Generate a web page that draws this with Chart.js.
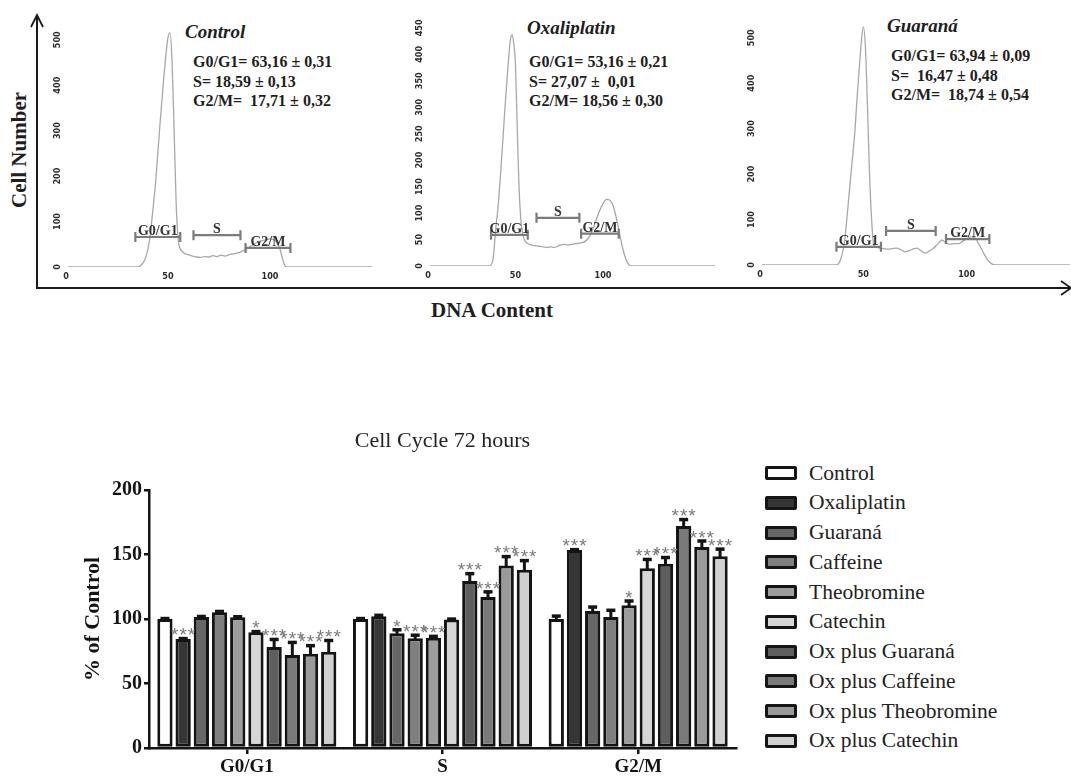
<!DOCTYPE html>
<html>
<head>
<meta charset="utf-8">
<title>Cell cycle 72 hours</title>
<script src="https://cdn.jsdelivr.net/npm/chart.js@4.4.1/dist/chart.umd.min.js"></script>
<style>
  html, body { margin: 0; padding: 0; background: #fff; }
  #page { position: relative; width: 1071px; height: 778px; overflow: hidden; background: #fff;
          font-family: "Liberation Serif", "Times New Roman", serif; color: #1e1e1e; }
  #page canvas, #page svg, .txt { position: absolute; }
  .txt { white-space: pre; line-height: 1; }
  .b { font-weight: bold; }
  .stat { font-size: 16px; font-weight: bold; }
  .head { font-size: 19px; font-weight: bold; font-style: italic; }
  .rot { transform: translate(-50%, -50%) rotate(-90deg); }
  .mid { transform: translate(-50%, -50%); }
  .legend-row { position: absolute; left: 765px; height: 22px; display: flex; align-items: center; }
  .legend-box { width: 32px; height: 14px; box-sizing: border-box; border: 3px solid #151515; border-radius: 2px; }
  .legend-label { margin-left: 12px; font-size: 21.5px; color: #222; white-space: nowrap; }
</style>
</head>
<body>
<div id="page">
  <svg width="1071" height="300" style="left:0;top:0">
    <path d="M37 16 V288 H1072" stroke="#1a1a1a" stroke-width="2" fill="none"/>
    <path d="M31 27 L37 15 L43 27" stroke="#1a1a1a" stroke-width="1.8" fill="none"/>
    <path d="M1061 281 L1071 288 L1061 295" stroke="#1a1a1a" stroke-width="1.8" fill="none"/>
  </svg>

  <div class="txt b rot" style="left:19px;top:150px;font-size:21px;">Cell Number</div>
  <div class="txt b mid" style="left:492px;top:310px;font-size:21px;">DNA Content</div>

  <div class="txt head" style="left:185px;top:22px;">Control</div>
  <div class="txt stat" style="left:193px;top:54px;">G0/G1= 63,16 ± 0,31</div>
  <div class="txt stat" style="left:193px;top:74px;">S= 18,59 ± 0,13</div>
  <div class="txt stat" style="left:193px;top:93px;">G2/M=  17,71 ± 0,32</div>

  <div class="txt head" style="left:527px;top:18px;">Oxaliplatin</div>
  <div class="txt stat" style="left:529px;top:54px;">G0/G1= 53,16 ± 0,21</div>
  <div class="txt stat" style="left:529px;top:74px;">S= 27,07 ±  0,01</div>
  <div class="txt stat" style="left:529px;top:93px;">G2/M= 18,56 ± 0,30</div>

  <div class="txt head" style="left:887px;top:16px;">Guaraná</div>
  <div class="txt stat" style="left:891px;top:48px;">G0/G1= 63,94 ± 0,09</div>
  <div class="txt stat" style="left:891px;top:68px;">S=  16,47 ± 0,48</div>
  <div class="txt stat" style="left:891px;top:87px;">G2/M=  18,74 ± 0,54</div>

  <canvas id="hist-control"></canvas>
  <canvas id="hist-ox"></canvas>
  <canvas id="hist-guarana"></canvas>

  <canvas id="cycle" width="760" height="358" style="left:0;top:420px;"></canvas>
  <div id="legend"></div>
</div>

<script>
const serif = '"Liberation Serif", "Times New Roman", serif';
const narrow = '"Liberation Sans Narrow", "DejaVu Sans Condensed", "Arial Narrow", sans-serif';

// --- flow cytometry histograms (DNA content channel vs cell count) ---
const histTicksX = [0, 50, 100];
const controlTicksY = [0, 100, 200, 300, 400, 500];
const oxTicksY = [0, 50, 100, 150, 200, 250, 300, 350, 400, 450];
const guaranaTicksY = [0, 100, 200, 300, 400, 500];

const controlDNA = [1, 35, 37, 39, 41, 42, 44, 46, 48, 50, 51, 52, 53, 54, 55, 56, 57, 58, 60, 62,
  64, 66, 68, 70, 72, 74, 76, 78, 80, 82, 84, 86, 88, 90, 92, 94, 96, 98, 100, 102,
  104, 105, 106, 107, 108, 150];
const controlCells = [0, 0, 5, 20, 60, 100, 190, 310, 420, 505, 515, 450, 300, 140, 60, 40, 34, 30, 27, 24,
  22, 21, 23, 22, 25, 23, 26, 24, 27, 29, 31, 34, 38, 44, 50, 55, 58, 60, 62, 60,
  50, 38, 20, 6, 0, 0];

const oxDNA = [1, 35, 37, 39, 40, 42, 44, 46, 47, 48, 49, 50, 51, 52, 53, 54, 55, 56, 58, 60,
  62, 64, 66, 68, 70, 72, 74, 76, 78, 80, 82, 84, 86, 88, 90, 92, 94, 96, 98, 100,
  102, 104, 106, 108, 110, 112, 114, 116, 164];
const oxCells = [0, 0, 10, 80, 110, 200, 300, 390, 425, 437, 420, 380, 260, 150, 90, 62, 50, 45, 41, 39,
  38, 37, 36, 35, 36, 35, 37, 40, 41, 40, 41, 42, 43, 44, 47, 54, 68, 86, 104, 118,
  126, 124, 112, 85, 52, 24, 6, 0, 0];

const guaranaDNA = [1, 37, 39, 41, 42, 44, 46, 47, 48, 49, 50, 51, 52, 53, 54, 55, 56, 58, 60, 62,
  64, 66, 68, 70, 72, 74, 76, 78, 80, 82, 84, 86, 88, 90, 92, 94, 96, 98, 100, 102,
  104, 106, 108, 110, 112, 114, 150];
const guaranaCells = [0, 0, 12, 55, 100, 200, 300, 370, 430, 490, 524, 480, 350, 200, 100, 45, 40, 37, 36, 35,
  36, 37, 34, 29, 31, 35, 37, 31, 26, 31, 37, 46, 55, 48, 46, 47, 47, 52, 58, 62,
  60, 45, 28, 12, 3, 0, 0];

// gate markers: label, from, to, level
const controlGates = [["G0/G1", 34, 56, 66], ["S", 62.5, 85.5, 70], ["G2/M", 88, 110, 42]];
const oxGates = [["G0/G1", 36, 57, 59], ["S", 62, 86.5, 91], ["G2/M", 87.5, 109, 61]];
const guaranaGates = [["G0/G1", 37, 58.5, 40], ["S", 61, 85, 75], ["G2/M", 90, 111, 57]];

// --- bar chart: % of control ---
const phases = ["G0/G1", "S", "G2/M"];
const treatments = ["Control", "Oxaliplatin", "Guaraná", "Caffeine", "Theobromine", "Catechin",
  "Ox plus Guaraná", "Ox plus Caffeine", "Ox plus Theobromine", "Ox plus Catechin"];
const g0g1Mean = [100, 84.5, 101.5, 105.2, 101.3, 89.6, 78.3, 72, 73, 74.5];
const sMean = [100, 102, 89, 85, 85.5, 99.5, 129.5, 117, 141.5, 138.2];
const g2mMean = [100, 153.5, 106.2, 101.5, 110.7, 139.3, 142.8, 172, 155.8, 148.6];
const g0g1Sem = [0.5, 0.5, 0.6, 0.8, 0.6, 0.8, 6, 10, 6.5, 9];
const sSem = [0.5, 1, 2.8, 2.6, 1.2, 0.6, 5.8, 4.2, 7, 7.2];
const g2mSem = [2.4, 0.4, 3.2, 5.4, 3.4, 7, 5, 5.2, 4.8, 5.7];
const g0g1Sig = ["", "***", "", "", "", "*", "***", "***", "***", "***"];
const sSig = ["", "", "*", "***", "***", "", "***", "***", "***", "***"];
const g2mSig = ["", "***", "", "", "*", "***", "***", "***", "***", "***"];

const barFills = ["#ffffff", "#363636", "#676767", "#7f7f7f", "#9d9d9d", "#d6d6d6",
  "#5e5e5e", "#7a7a7a", "#9a9a9a", "#d0d0d0"];

// panels of the top figure; area = chart area in page pixels [left, top, right, bottom]
const panels = [
  { id: "hist-control", dna: controlDNA, cells: controlCells, ticksY: controlTicksY, gates: controlGates,
    xMax: 150, yMax: 550, area: [66, 17, 372, 267] },
  { id: "hist-ox", dna: oxDNA, cells: oxCells, ticksY: oxTicksY, gates: oxGates,
    xMax: 164, yMax: 480, area: [428, 12, 715, 266] },
  { id: "hist-guarana", dna: guaranaDNA, cells: guaranaCells, ticksY: guaranaTicksY, gates: guaranaGates,
    xMax: 150, yMax: 550, area: [760, 15, 1070, 265] },
];

function makeHist(p) {
  const [l, t, r, b] = p.area;
  const pad = { left: 30, top: 8, right: 10, bottom: 22 };
  const canvas = document.getElementById(p.id);
  canvas.width = r - l + pad.left + pad.right;
  canvas.height = b - t + pad.top + pad.bottom;
  canvas.style.left = (l - pad.left) + "px";
  canvas.style.top = (t - pad.top) + "px";

  const decor = {
    id: "histDecor",
    afterDraw(chart) {
      const { ctx, scales: { x, y } } = chart;
      const x0 = x.getPixelForValue(0);
      const y0 = y.getPixelForValue(0);
      ctx.save();
      ctx.fillStyle = "#2b2b2b";
      ctx.font = "bold 9px " + narrow;
      ctx.textAlign = "center";
      ctx.textBaseline = "middle";
      histTicksX.forEach((v) => ctx.fillText(String(v), x.getPixelForValue(v), y0 + 10));
      p.ticksY.forEach((v) => {
        ctx.save();
        ctx.translate(x0 - 8, y.getPixelForValue(v));
        ctx.rotate(-Math.PI / 2);
        ctx.fillText(String(v), 0, 0);
        ctx.restore();
      });
      // gate markers
      p.gates.forEach(([label, from, to, level]) => {
        const a = x.getPixelForValue(from), z = x.getPixelForValue(to), gy = y.getPixelForValue(level);
        ctx.strokeStyle = "#7b7b7b";
        ctx.lineWidth = 2.2;
        ctx.beginPath();
        ctx.moveTo(a, gy); ctx.lineTo(z, gy);
        ctx.moveTo(a, gy - 5); ctx.lineTo(a, gy + 5);
        ctx.moveTo(z, gy - 5); ctx.lineTo(z, gy + 5);
        ctx.stroke();
        ctx.fillStyle = "#333";
        ctx.font = "bold 14px " + serif;
        ctx.textBaseline = "alphabetic";
        ctx.fillText(label, (a + z) / 2, gy - 2);
      });
      ctx.restore();
    },
  };

  new Chart(canvas, {
    type: "line",
    data: {
      datasets: [{
        data: p.dna.map((v, i) => ({ x: v, y: p.cells[i] })),
        borderColor: "#a8a8a8",
        borderWidth: 1.3,
        pointRadius: 0,
        fill: false,
        cubicInterpolationMode: "monotone",
      }],
    },
    options: {
      responsive: false,
      animation: false,
      devicePixelRatio: 1,
      layout: { padding: pad },
      plugins: { legend: { display: false }, tooltip: { enabled: false } },
      scales: {
        x: { type: "linear", min: 0, max: p.xMax, display: false },
        y: { min: 0, max: p.yMax, display: false },
      },
    },
    plugins: [decor],
  });
}

panels.forEach(makeHist);

// error bars (mean + SEM, upper only) and significance stars
const errorBars = {
  id: "errorBars",
  afterDatasetsDraw(chart) {
    const { ctx, scales: { y } } = chart;
    ctx.save();
    chart.data.datasets.forEach((ds, di) => {
      chart.getDatasetMeta(di).data.forEach((bar, i) => {
        const top = y.getPixelForValue(ds.data[i] + ds.sem[i]);
        ctx.fillStyle = "#141414";
        if (bar.y - top > 1) ctx.fillRect(bar.x - 1.5, top, 3, bar.y - top + 1);
        ctx.fillRect(bar.x - 4.5, top - 1.5, 9, 3.5);
        if (ds.sig[i]) {
          ctx.fillStyle = "#7a7a7a";
          ctx.font = '19px "Liberation Sans", Arial, sans-serif';
          ctx.letterSpacing = "1px";
          ctx.textAlign = "center";
          ctx.textBaseline = "alphabetic";
          ctx.fillText(ds.sig[i], bar.x + 0.5, top + 3);
        }
      });
    });
    ctx.restore();
  },
};

const datasets = treatments.map((name, i) => ({
  label: name,
  data: [g0g1Mean[i], sMean[i], g2mMean[i]],
  sem: [g0g1Sem[i], sSem[i], g2mSem[i]],
  sig: [g0g1Sig[i], sSig[i], g2mSig[i]],
  backgroundColor: barFills[i],
  borderColor: "#141414",
  borderWidth: 3,
  borderSkipped: false,
  categoryPercentage: 0.93,
  barPercentage: 0.84,
}));

const axisColor = "#141414";
new Chart(document.getElementById("cycle"), {
  type: "bar",
  data: { labels: phases, datasets },
  options: {
    responsive: false,
    animation: false,
    devicePixelRatio: 1,
    layout: { padding: { left: 76, right: 24, top: 0, bottom: 0 } },
    plugins: {
      legend: { display: false },
      tooltip: { enabled: false },
      title: {
        display: true,
        text: "Cell Cycle 72 hours",
        fullSize: false,
        color: "#222",
        font: { family: serif, size: 22, weight: "normal" },
        padding: { top: 8.5, bottom: 35 },
      },
    },
    scales: {
      x: {
        ticks: { color: axisColor, font: { family: serif, size: 19, weight: "bold" }, padding: 2 },
        grid: { offset: false, drawOnChartArea: false, tickLength: 6, color: axisColor, lineWidth: 2.5 },
        border: { color: axisColor, width: 2.5 },
        afterFit(scale) { scale.height = 30; },
      },
      y: {
        min: 0,
        max: 200,
        ticks: { stepSize: 50, color: axisColor, font: { family: serif, size: 20, weight: "bold" }, padding: 2 },
        grid: { drawOnChartArea: false, tickLength: 5, color: axisColor, lineWidth: 2.5 },
        border: { color: axisColor, width: 2.5 },
        title: {
          display: true,
          text: "% of Control",
          color: axisColor,
          font: { family: serif, size: 22, weight: "bold" },
          padding: { top: 4, bottom: 4 },
        },
        afterFit(scale) { scale.width = 73; },
      },
    },
  },
  plugins: [errorBars],
});

// legend
const legend = document.getElementById("legend");
treatments.forEach((name, i) => {
  const row = document.createElement("div");
  row.className = "legend-row";
  row.style.top = (473 + i * 29.75 - 11) + "px";
  const box = document.createElement("div");
  box.className = "legend-box";
  box.style.background = barFills[i];
  const label = document.createElement("div");
  label.className = "legend-label";
  label.textContent = name;
  row.appendChild(box);
  row.appendChild(label);
  legend.appendChild(row);
});
</script>
</body>
</html>
